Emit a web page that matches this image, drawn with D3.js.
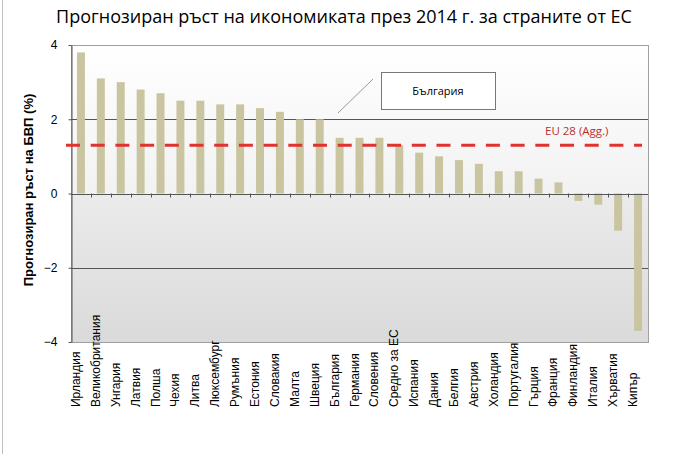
<!DOCTYPE html>
<html lang="bg">
<head>
    <meta charset="UTF-8">
    <title>Прогнозиран ръст</title>
    <script src="https://d3js.org/d3.v7.min.js"></script>
    <style>
        body { margin: 0; background: #fff; }
        text { font-family: "Liberation Sans", Arial, sans-serif; }
        .title { font-family: "Open Sans", sans-serif; font-size: 18px; }
        .cat { font-size: 12px; }
        .ytick text { font-size: 12px; }
    </style>
</head>
<body>
<script>
    const width  = 680;
    const height = 454;
    const plot = {left: 71, right: 648, top: 45, bottom: 342};

    const countries = [
        "Ирландия", "Великобритания", "Унгария", "Латвия", "Полша", "Чехия", "Литва",
        "Люксембург", "Румъния", "Естония", "Словакия", "Малта", "Швеция", "България",
        "Германия", "Словения", "Средно за ЕС", "Испания", "Дания", "Белгия", "Австрия",
        "Холандия", "Португалия", "Гърция", "Франция", "Финландия", "Италия", "Хърватия", "Кипър"
    ];
    const growth = [
        3.8, 3.1, 3.0, 2.8, 2.7, 2.5, 2.5,
        2.4, 2.4, 2.3, 2.2, 2.0, 2.0, 1.5,
        1.5, 1.5, 1.3, 1.1, 1.0, 0.9, 0.8,
        0.6, 0.6, 0.4, 0.3, -0.2, -0.3, -1.0, -3.7
    ];
    const yTicks = [-4, -2, 0, 2, 4];
    const euAverage = 1.3;
    const euLabel = "EU 28 (Agg.)";
    const calloutLabel = "България";

    const svg = d3.select("body").append("svg").attr("width", width).attr("height", height);

    const x = d3.scaleBand()
                .domain(countries)
                .range([plot.left, plot.right])
                .paddingInner(0.6)
                .paddingOuter(0.3);

    const y = d3.scaleLinear()
                .domain([-4, 4])
                .range([plot.bottom, plot.top]);

    // background gradients (above / below zero)
    const defs = svg.append("defs");
    const gTop = defs.append("linearGradient").attr("id", "bgTop").attr("x1", 0).attr("y1", 0).attr("x2", 0).attr("y2", 1);
    gTop.append("stop").attr("offset", "0%").attr("stop-color", "#ffffff");
    gTop.append("stop").attr("offset", "100%").attr("stop-color", "#f2f2f2");
    const gBot = defs.append("linearGradient").attr("id", "bgBot").attr("x1", 0).attr("y1", 0).attr("x2", 0).attr("y2", 1);
    gBot.append("stop").attr("offset", "0%").attr("stop-color", "#ebebeb");
    gBot.append("stop").attr("offset", "100%").attr("stop-color", "#dadada");

    svg.append("rect")
        .attr("x", plot.left).attr("y", y(4))
        .attr("width", plot.right - plot.left).attr("height", y(0) - y(4))
        .attr("fill", "url(#bgTop)");
    svg.append("rect")
        .attr("x", plot.left).attr("y", y(0))
        .attr("width", plot.right - plot.left).attr("height", y(-4) - y(0))
        .attr("fill", "url(#bgBot)");

    // frame
    svg.append("rect")
        .attr("x", plot.left + 0.5).attr("y", plot.top + 0.5)
        .attr("width", plot.right - plot.left).attr("height", plot.bottom - plot.top)
        .attr("fill", "none").attr("stroke", "#a0a0a0");

    // left border of the picture
    svg.append("line")
        .attr("x1", 2.5).attr("x2", 2.5).attr("y1", 0).attr("y2", height)
        .attr("stroke", "#c0c0c0");

    // gridlines at +-2
    svg.selectAll("line.grid")
        .data([2, -2]).enter().append("line")
        .attr("class", "grid")
        .attr("x1", plot.left).attr("x2", plot.right)
        .attr("y1", d => Math.round(y(d)) + 0.5).attr("y2", d => Math.round(y(d)) + 0.5)
        .attr("stroke", "#555");

    // bars
    svg.selectAll("rect.bar")
        .data(growth).enter().append("rect")
        .attr("class", "bar")
        .attr("x", (d, i) => x(countries[i]))
        .attr("width", x.bandwidth())
        .attr("y", d => y(Math.max(0, d)))
        .attr("height", d => Math.abs(y(d) - y(0)))
        .attr("fill", "#c8c5a0");

    // zero line with category ticks
    svg.append("line")
        .attr("x1", plot.left).attr("x2", plot.right)
        .attr("y1", Math.round(y(0)) + 0.5).attr("y2", Math.round(y(0)) + 0.5)
        .attr("stroke", "#555");
    svg.selectAll("line.ctick")
        .data(countries.slice(1)).enter().append("line")
        .attr("class", "ctick")
        .attr("x1", d => Math.round(x(d) + x.bandwidth() / 2 - x.step() / 2) + 0.5)
        .attr("x2", d => Math.round(x(d) + x.bandwidth() / 2 - x.step() / 2) + 0.5)
        .attr("y1", y(0)).attr("y2", y(0) + 4)
        .attr("stroke", "#555");

    // y axis
    const yAxis = d3.axisLeft(y).tickValues(yTicks).tickSize(3).tickSizeOuter(0);
    const ya = svg.append("g")
        .attr("class", "ytick")
        .attr("transform", "translate(" + [plot.left + 0.5, 0] + ")")
        .call(yAxis);
    ya.select(".domain").attr("stroke", "#555");
    ya.selectAll(".tick line").attr("stroke", "#555");
    ya.selectAll(".tick text").attr("x", -14).attr("fill", "#000");

    // EU average dashed line
    svg.append("line")
        .attr("x1", 66).attr("x2", 642)
        .attr("y1", y(euAverage)).attr("y2", y(euAverage))
        .attr("stroke", "#e0322f").attr("stroke-width", 2.8)
        .attr("stroke-dasharray", "14,10.7");
    svg.append("text")
        .attr("x", 545).attr("y", y(euAverage) - 10)
        .attr("fill", "#b8312f")
        .style("font-family", "'Open Sans', sans-serif")
        .style("font-size", "11.5px")
        .text(euLabel);

    // callout for Bulgaria
    svg.append("line")
        .attr("x1", 338).attr("y1", 113).attr("x2", 373).attr("y2", 79)
        .attr("stroke", "#999");
    svg.append("rect")
        .attr("x", 381.5).attr("y", 72.5).attr("width", 114).attr("height", 37)
        .attr("fill", "#fff").attr("stroke", "#777");
    svg.append("text")
        .attr("x", 438).attr("y", 95)
        .attr("text-anchor", "middle")
        .style("font-family", "'Open Sans', sans-serif")
        .style("font-size", "11px")
        .text(calloutLabel);

    // category labels
    svg.selectAll("text.cat")
        .data(countries).enter().append("text")
        .attr("class", "cat")
        .attr("transform", d => "translate(" + [x(d) + x.bandwidth() / 2 - 1, 407] + ") rotate(-90)")
        .attr("text-anchor", "start")
        .text(d => d);

    // title
    svg.append("text")
        .attr("class", "title")
        .attr("x", 344).attr("y", 23)
        .attr("text-anchor", "middle")
        .text("Прогнозиран ръст на икономиката през 2014 г. за страните от ЕС");

    // y axis title
    svg.append("text")
        .attr("transform", "translate(" + [33, 190] + ") rotate(-90)")
        .attr("text-anchor", "middle")
        .style("font-size", "13px")
        .style("font-weight", "bold")
        .text("Прогнозиран ръст на БВП (%)");
</script>
</body>
</html>
